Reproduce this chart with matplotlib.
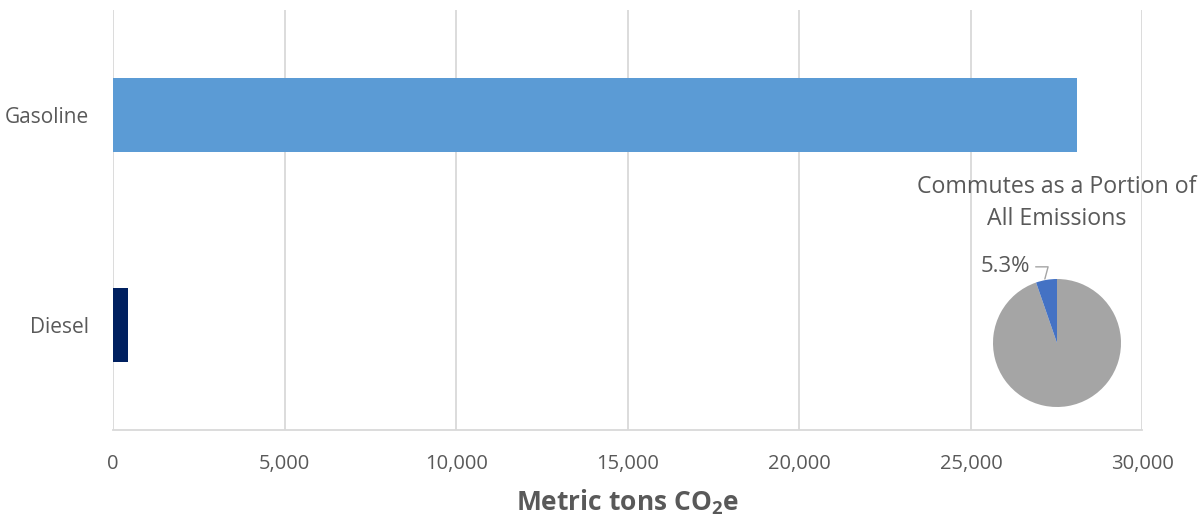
import matplotlib.pyplot as plt
from matplotlib.ticker import FuncFormatter

plt.rcParams['font.family'] = ['Open Sans', 'DejaVu Sans']
plt.rcParams['mathtext.fontset'] = 'custom'
plt.rcParams['mathtext.bf'] = 'Open Sans:bold'
plt.rcParams['mathtext.rm'] = 'Open Sans'

fuels = ['Diesel', 'Gasoline']
emissions = [440, 28080]
fuel_colors = ['#002060', '#5b9bd5']

pie_labels = ['Other emissions', 'Commutes']
pie_share = [94.7, 5.3]
pie_colors = ['#a5a5a5', '#4472c4']

text_color = '#595959'
grid_color = '#d9d9d9'

fig = plt.figure(figsize=(12.04, 5.22), dpi=100)
ax = fig.add_axes([0.0939, 0.176, 0.855, 0.805])

ax.barh(fuels, emissions, height=0.35, color=fuel_colors, zorder=3)
ax.set_xlim(0, 30000)
ax.set_ylim(-0.5, 1.5)
ax.set_xticks(range(0, 30001, 5000))
ax.xaxis.set_major_formatter(FuncFormatter(lambda v, p: f'{int(v):,}'))
ax.grid(axis='x', color=grid_color, linewidth=1.3, zorder=0)
for side in ['top', 'right', 'left']:
    ax.spines[side].set_visible(False)
ax.spines['bottom'].set_color(grid_color)
ax.spines['bottom'].set_linewidth(1.3)
ax.tick_params(axis='x', length=0, labelsize=14.5, labelcolor=text_color, pad=17)
ax.tick_params(axis='y', length=0, labelsize=15, labelcolor=text_color, pad=17)
ax.set_xlabel(r'Metric tons CO$\mathbf{_2}$e', fontsize=19, fontweight='bold',
              color=text_color, labelpad=10)

# inset pie: share of all emissions due to commutes
pax = fig.add_axes([993 / 1204, 115 / 522, 128 / 1204, 128 / 522])
pax.pie(pie_share, colors=pie_colors, startangle=90, counterclock=False,
        wedgeprops=dict(linewidth=0))
pax.set_xlim(-1, 1)
pax.set_ylim(-1, 1)
pax.set_aspect('equal')
pax.annotate(f'{pie_share[1]}%', xy=(-0.19, 1.0), xytext=(-0.42, 1.19),
             ha='right', va='center', fontsize=16, color=text_color,
             annotation_clip=False,
             arrowprops=dict(arrowstyle='-', color='#a5a5a5', lw=1,
                             connectionstyle='angle,angleA=0,angleB=75,rad=0',
                             shrinkA=2, shrinkB=0))

fig.text(1057 / 1204, 1 - 203 / 522, 'Commutes as a Portion of\nAll Emissions',
         ha='center', va='center', fontsize=16.7, color=text_color,
         linespacing=1.42)

plt.savefig('out.png', dpi=100)
